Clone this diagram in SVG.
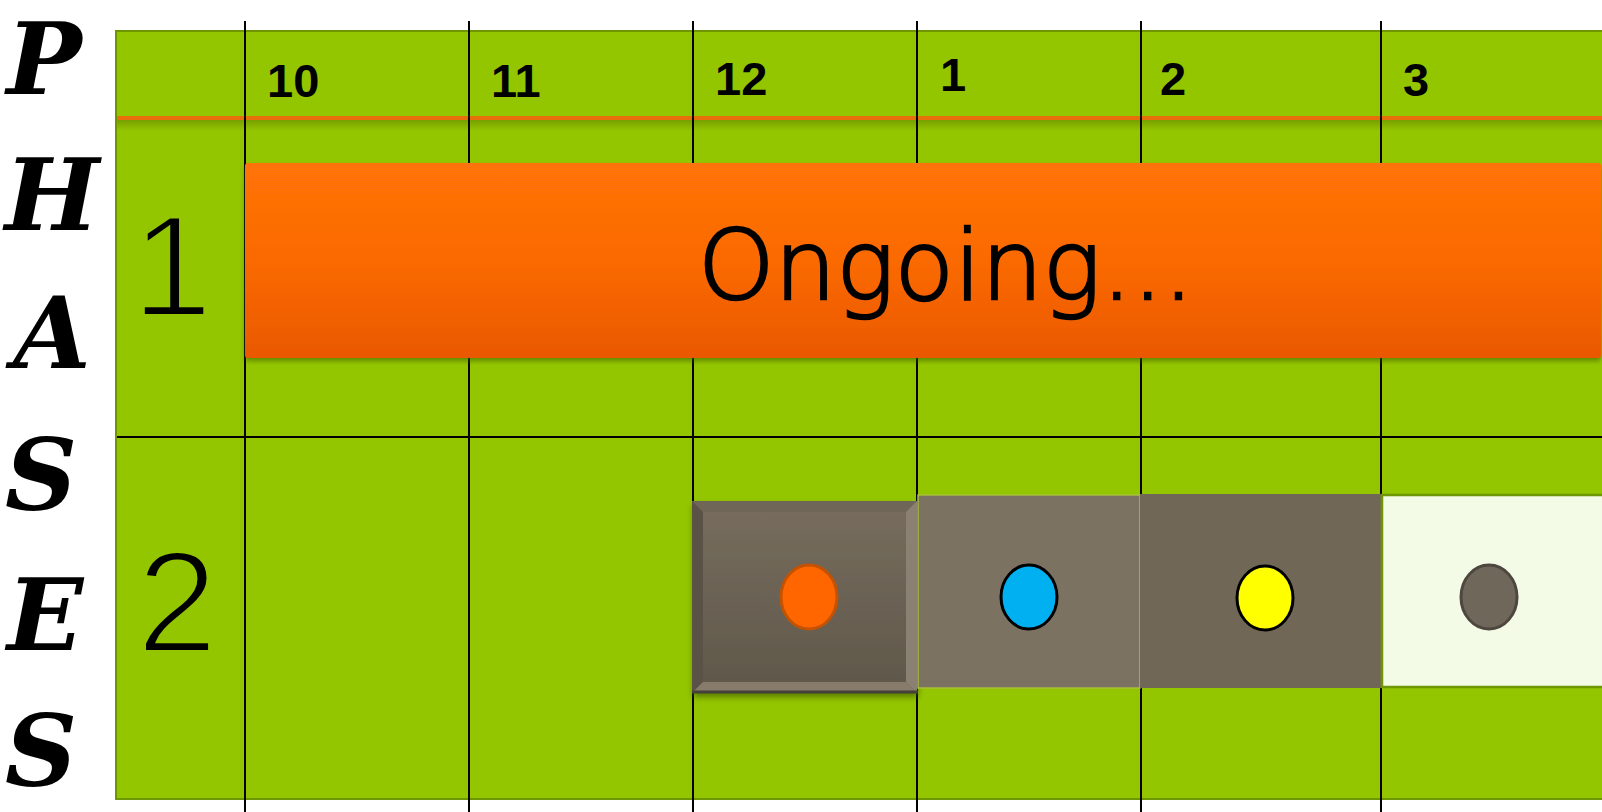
<svg xmlns="http://www.w3.org/2000/svg" width="1602" height="812" viewBox="0 0 1602 812">
  <defs>
    <style>
      .script { font-family: "DejaVu Serif", "Liberation Serif", serif; font-weight: bold; font-style: italic; font-size: 100px; fill: #000; }
      .hour { font-family: "Liberation Sans", Arial, sans-serif; font-weight: bold; font-size: 47px; fill: #000; }
      .rowlbl { font-family: "Liberation Sans", Arial, sans-serif; font-size: 145px; fill: #000; stroke: #94c600; stroke-width: 4; }
      .vline { stroke: #000; stroke-width: 2; }
      .dot { stroke-width: 3; }
    </style>
    <linearGradient id="orangeGrad" x1="0" y1="0" x2="0" y2="1">
      <stop offset="0" stop-color="#ff7307"/>
      <stop offset="0.5" stop-color="#fb6a05"/>
      <stop offset="1" stop-color="#ea5805"/>
    </linearGradient>
    <linearGradient id="bevelGrad" x1="0" y1="0" x2="0" y2="1">
      <stop offset="0" stop-color="#776d5e"/>
      <stop offset="1" stop-color="#5f574a"/>
    </linearGradient>
    <linearGradient id="hdrShadow" x1="0" y1="0" x2="0" y2="1">
      <stop offset="0" stop-color="#76a000"/>
      <stop offset="1" stop-color="#94c600"/>
    </linearGradient>
    <filter id="barShadow" x="-5%" y="-20%" width="110%" height="140%">
      <feDropShadow dx="0" dy="3" stdDeviation="2.5" flood-color="#3f5a00" flood-opacity="0.6"/>
    </filter>
    <filter id="boxShadow" x="-5%" y="-5%" width="110%" height="115%">
      <feDropShadow dx="1" dy="4" stdDeviation="3" flood-color="#3f5a00" flood-opacity="0.7"/>
    </filter>
  </defs>

  <rect width="1602" height="812" fill="#ffffff"/>

  <!-- PHASES vertical title -->
  <g id="title">
    <text class="script" x="44" y="94" text-anchor="middle">P</text>
    <text class="script" x="52" y="230" text-anchor="middle">H</text>
    <text class="script" x="52" y="368" text-anchor="middle">A</text>
    <text class="script" x="41" y="510" text-anchor="middle">S</text>
    <text class="script" x="45" y="650" text-anchor="middle">E</text>
    <text class="script" x="41" y="786" text-anchor="middle">S</text>
  </g>

  <!-- green panel -->
  <g id="panel">
    <rect x="116" y="31" width="1490" height="768" fill="#94c600" stroke="#6e9600" stroke-width="2"/>
    <rect x="117" y="120" width="1485" height="11" fill="url(#hdrShadow)"/>
    <rect x="117" y="116" width="1485" height="4" fill="#e8700a"/>
  </g>

  <!-- grid lines -->
  <g id="grid">
    <line class="vline" x1="245" y1="21" x2="245" y2="812"/>
    <line class="vline" x1="469" y1="21" x2="469" y2="812"/>
    <line class="vline" x1="693" y1="21" x2="693" y2="812"/>
    <line class="vline" x1="917" y1="21" x2="917" y2="812"/>
    <line class="vline" x1="1141" y1="21" x2="1141" y2="812"/>
    <line class="vline" x1="1381" y1="21" x2="1381" y2="812"/>
    <line x1="117" y1="437" x2="1602" y2="437" stroke="#000" stroke-width="2"/>
  </g>

  <!-- hour labels -->
  <g id="hours">
    <text class="hour" x="267" y="97">10</text>
    <text class="hour" x="491" y="97">11</text>
    <text class="hour" x="715" y="95">12</text>
    <text class="hour" x="940" y="91">1</text>
    <text class="hour" x="1160" y="95">2</text>
    <text class="hour" x="1403" y="96">3</text>
  </g>

  <!-- phase row labels -->
  <g id="phase1-label"><text class="rowlbl" x="172" y="316" text-anchor="middle">1</text></g>
  <g id="phase2-label"><text class="rowlbl" x="177" y="652" text-anchor="middle">2</text></g>

  <!-- phase 1 bar -->
  <g id="phase1-bar">
    <rect x="245" y="163" width="1356" height="195" rx="3" fill="url(#orangeGrad)" filter="url(#barShadow)"/>
    <text x="946" y="299" text-anchor="middle" font-family="'DejaVu Sans', 'Liberation Sans', sans-serif" font-weight="200" font-size="97" textLength="496" lengthAdjust="spacingAndGlyphs" fill="#000" stroke="#000" stroke-width="2.5">Ongoing...</text>
  </g>

  <!-- phase 2 boxes -->
  <g id="box1">
    <g filter="url(#boxShadow)">
      <rect x="692" y="501" width="225" height="192" fill="url(#bevelGrad)"/>
    </g>
    <polygon points="692,501 917,501 906,512 703,512" fill="#6f6657"/>
    <polygon points="692,501 703,512 703,682 692,693" fill="#5a5246"/>
    <polygon points="917,501 917,693 906,682 906,512" fill="#8b8172"/>
    <polygon points="692,693 917,693 906,682 703,682" fill="#877c6c"/>
    <line x1="692" y1="692" x2="918" y2="692" stroke="#45403a" stroke-width="3"/>
    <ellipse class="dot" cx="809" cy="597" rx="28" ry="32" fill="#ff6600" stroke="#c55200"/>
  </g>
  <g id="box2">
    <rect x="918" y="495" width="222" height="193" fill="#7b7262" stroke="#a7c03a" stroke-width="1.5"/>
    <ellipse class="dot" cx="1029" cy="597" rx="28" ry="32" fill="#00b0f0" stroke="#000"/>
  </g>
  <g id="box3">
    <rect x="1140" y="494" width="241" height="194" fill="#706757"/>
    <ellipse class="dot" cx="1265" cy="598" rx="28" ry="32" fill="#ffff00" stroke="#000"/>
  </g>
  <g id="box4">
    <rect x="1382" y="495" width="222" height="192" fill="#f3fae6" stroke="#6e9600" stroke-width="2.5"/>
    <ellipse class="dot" cx="1489" cy="597" rx="28" ry="32" fill="#6f6759" stroke="#4e473f"/>
  </g>
</svg>
